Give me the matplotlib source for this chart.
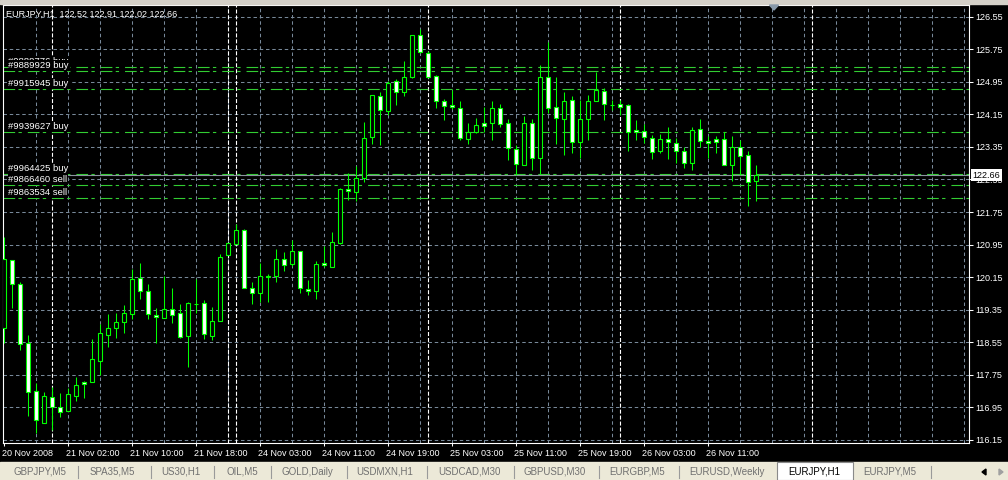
import matplotlib.pyplot as plt
import matplotlib.transforms as mtransforms
from matplotlib.patches import Rectangle, Polygon
import numpy as np

plt.rcParams['font.family'] = ['Liberation Sans', 'DejaVu Sans']
plt.rcParams['lines.scale_dashes'] = False

# EURJPY H1 bars, 20 Nov 18:00 .. 26 Nov 17:00 (one Sunday bar at index 28)
opens = [118.90, 120.57, 119.98, 118.53, 117.36, 116.56, 117.20, 116.95, 116.85, 117.24,
         117.58, 117.58, 118.10, 118.73, 118.91, 119.06, 119.24, 120.12, 119.81, 119.23,
         119.14, 119.36, 119.26, 118.71, 119.50, 119.51, 118.71, 119.07, 120.69, 120.96,
         121.31, 119.88, 119.77, 120.16, 120.17, 120.59, 120.47, 120.80, 119.85, 119.80,
         120.49, 120.41, 121.00, 122.31, 122.24, 122.58, 123.59, 124.59, 124.24, 124.96,
         124.70, 125.08, 126.10, 125.66, 125.09, 124.48, 124.38, 124.30, 123.54, 123.71,
         123.94, 123.94, 124.30, 123.94, 123.30, 122.90, 123.94, 123.07, 125.07, 124.33,
         124.03, 124.50, 123.48, 124.03, 124.48, 124.73, 124.38, 124.40, 124.37, 123.77,
         123.75, 123.57, 123.24, 123.54, 123.44, 123.26, 122.95, 123.79, 123.49, 123.54,
         123.54, 122.90, 123.35, 123.15, 122.52]
highs = [121.13, 120.58, 120.03, 118.73, 117.56, 117.33, 117.44, 117.31, 117.42, 117.70,
         117.60, 118.63, 119.00, 119.25, 119.28, 119.46, 120.35, 120.51, 119.98, 119.40,
         120.18, 119.89, 119.49, 119.53, 120.11, 119.59, 119.42, 120.72, 120.98, 121.46,
         121.34, 120.04, 120.49, 120.23, 120.84, 120.76, 121.07, 120.80, 120.08, 120.55,
         120.92, 121.25, 122.33, 122.71, 122.87, 123.96, 124.63, 124.69, 124.96, 125.02,
         125.47, 126.11, 126.25, 125.70, 125.12, 124.53, 124.75, 124.48, 123.94, 124.07,
         124.33, 124.48, 124.40, 124.04, 123.40, 124.10, 124.04, 125.37, 125.94, 125.07,
         124.70, 124.59, 124.51, 124.62, 125.18, 124.80, 124.51, 124.51, 124.40, 124.02,
         123.92, 123.65, 123.67, 123.85, 123.57, 123.36, 123.84, 124.04, 123.62, 123.62,
         123.71, 123.62, 123.53, 123.26, 122.91]
lows = [118.53, 119.39, 118.36, 116.74, 116.31, 116.56, 116.39, 116.72, 116.85, 117.12,
        117.19, 117.58, 117.75, 118.44, 118.66, 118.79, 119.12, 119.61, 119.12, 118.53,
        119.14, 119.03, 118.65, 117.95, 119.26, 118.63, 118.61, 119.07, 120.69, 120.96,
        119.88, 119.49, 119.55, 119.55, 120.04, 120.31, 120.43, 119.77, 119.70, 119.61,
        120.41, 120.41, 120.97, 122.05, 122.01, 122.50, 123.43, 123.40, 124.14, 124.37,
        124.59, 125.05, 125.65, 125.05, 124.30, 124.00, 124.28, 123.53, 123.43, 123.69,
        123.71, 123.51, 123.85, 123.02, 122.66, 122.90, 122.79, 122.69, 124.18, 123.43,
        123.16, 123.21, 123.08, 123.53, 124.48, 124.00, 124.26, 124.14, 123.26, 123.51,
        123.44, 123.05, 123.20, 123.05, 122.95, 122.83, 122.79, 123.36, 123.08, 123.20,
        122.90, 122.52, 122.66, 121.91, 122.02]
closes = [120.59, 119.98, 118.50, 117.32, 116.64, 117.22, 116.95, 116.83, 117.27, 117.49,
          117.52, 118.13, 118.77, 118.90, 119.04, 119.26, 120.10, 119.81, 119.24, 119.17,
          119.36, 119.23, 118.69, 119.51, 119.50, 118.75, 119.07, 120.64, 120.98, 121.31,
          119.88, 119.76, 120.18, 120.18, 120.59, 120.44, 120.80, 119.88, 119.80, 120.47,
          120.44, 121.01, 122.32, 122.26, 122.58, 123.57, 124.62, 124.26, 124.93, 124.70,
          125.08, 126.10, 125.68, 125.07, 124.48, 124.35, 124.33, 123.57, 123.71, 123.89,
          123.86, 124.30, 123.92, 123.32, 122.93, 123.94, 123.07, 125.07, 124.30, 124.06,
          124.48, 123.48, 124.03, 124.48, 124.75, 124.40, 124.38, 124.34, 123.71, 123.71,
          123.59, 123.22, 123.55, 123.47, 123.24, 122.95, 123.77, 123.50, 123.44, 123.47,
          122.90, 123.35, 123.13, 122.50, 122.66]

time_ticks = [0, 8, 16, 24, 32, 40, 48, 56, 64, 72, 80, 88]
time_labels = ["20 Nov 2008", "21 Nov 02:00", "21 Nov 10:00", "21 Nov 18:00",
               "24 Nov 03:00", "24 Nov 11:00", "24 Nov 19:00", "25 Nov 03:00",
               "25 Nov 11:00", "25 Nov 19:00", "26 Nov 03:00", "26 Nov 11:00"]
day_separators = [6, 28, 29, 53, 77, 101]
price_ticks = [116.15, 116.95, 117.75, 118.55, 119.35, 120.15, 120.95,
               121.75, 122.55, 123.35, 124.15, 124.95, 125.75, 126.55]

order_prices = [125.31, 125.22, 124.77, 123.715, 122.68, 122.41, 122.09]
order_labels = ["#9888776 buy", "#9889929 buy", "#9915945 buy", "#9939627 buy",
                "#9964425 buy", "#9866460 sell", "#9863534 sell"]
bid = 122.66

tabs = ["GBPJPY,M5", "SPA35,M5", "US30,H1", "OIL,M5", "GOLD,Daily", "USDMXN,H1",
        "USDCAD,M30", "GBPUSD,M30", "EURGBP,M5", "EURUSD,Weekly", "EURJPY,H1", "EURJPY,M5"]
tab_centers = [40, 112, 181, 242, 307, 385, 469, 555, 637, 727, 814, 890]
tab_separators = [78, 151, 214, 271, 347, 427, 514, 599, 679, 931]
active_tab = "EURJPY,H1"

W, H = 1008, 480
CANDLE = '#00ff00'
GRID = '#778899'
ORDER = '#32cd32'


def fx(px):
    return px / W


def fy(py):
    return 1 - py / H


fig = plt.figure(figsize=(W / 100, H / 100), dpi=100, facecolor='black')

# window frame at top and tab strip at bottom
fig.patches.append(Rectangle((0, fy(4)), 1, 4 / H, transform=fig.transFigure,
                             color='#d4d0c8', zorder=0))
fig.patches.append(Rectangle((0, 0), 1, 18 / H, transform=fig.transFigure,
                             color='#ece9d8', zorder=0))
fig.patches.append(Rectangle((fx(777), 0), 76 / W, 18 / H, transform=fig.transFigure,
                             facecolor='white', edgecolor='#8a8a8a', lw=0.8, zorder=1))

ax = fig.add_axes([fx(2.7), fy(443), (969.3 - 2.7) / W, (443 - 5) / H])
ax.set_facecolor('black')
ax.set_xlim(-0.125, 120.7)
ax.set_ylim(116.076, 126.837)

# grid
for gx in range(4, 121, 4):
    ax.axvline(gx, color=GRID, lw=0.75, ls=(0, (2.5, 2)), zorder=1)
for gy in price_ticks:
    ax.axhline(gy, color=GRID, lw=0.75, ls=(0, (2.5, 2)), zorder=1)
for sx in day_separators:
    ax.axvline(sx, color='white', lw=0.8, ls=(0, (2.9, 1.4)), zorder=1.5)

# trade lines
for p in order_prices:
    ax.axhline(p, color=ORDER, lw=0.8, ls=(0, (8.4, 2.4, 2.4, 4.3)), zorder=2)
ax.axhline(bid, color='#8c95a0', lw=0.8, zorder=2)

# candles
idx = np.arange(len(opens))
o = np.array(opens)
c = np.array(closes)
ax.vlines(idx, lows, highs, color=CANDLE, lw=0.75, zorder=3)
ax.bar(idx, np.abs(c - o), bottom=np.minimum(o, c), width=0.5,
       color=np.where(c >= o, 'black', 'white'), edgecolor=CANDLE,
       linewidth=0.8, zorder=4)

# order labels, each with black background
lab_off = mtransforms.ScaledTranslation(0, 1 / 100, fig.dpi_scale_trans)
for p, t in zip(order_prices, order_labels):
    ax.text(0.6, p, t, color='white', fontsize=6.8, va='bottom', ha='left',
            transform=ax.transData + lab_off, zorder=6,
            bbox=dict(facecolor='black', edgecolor='none', pad=0.6))

# axes styling
for s in ax.spines.values():
    s.set_color('white')
    s.set_linewidth(0.8)
ax.yaxis.tick_right()
ax.set_yticks(price_ticks)
ax.set_yticklabels([f"{v:.2f}" for v in price_ticks])
ax.tick_params(axis='y', direction='out', length=3, width=0.75, colors='white',
               labelsize=6.5, pad=1.5)
ax.set_xticks(time_ticks)
ax.set_xticklabels(time_labels)
ax.tick_params(axis='x', direction='out', length=2.5, width=0.75, colors='white',
               labelsize=6.5, pad=1.5)
shift = mtransforms.ScaledTranslation(-2 / 100, 0, fig.dpi_scale_trans)
for lbl in ax.get_xticklabels():
    lbl.set_horizontalalignment('left')
    lbl.set_transform(lbl.get_transform() + shift)

# current price box on the price scale
ax.text(1.0035, bid, f"{bid:.2f}", transform=ax.get_yaxis_transform(), color='black',
        fontsize=6.5, va='center', ha='left', clip_on=False, zorder=10,
        bbox=dict(facecolor='white', edgecolor='none', pad=1.2))

# chart title
fig.text(fx(6.5), fy(14), "EURJPY,H1  122.52 122.91 122.02 122.66", color='white',
         fontsize=6.5, va='center', ha='left')

# chart shift marker
fig.patches.append(Polygon([(fx(769.5), fy(5)), (fx(778.5), fy(5)), (fx(774), fy(10))],
                           closed=True, transform=fig.transFigure, color='#8899aa', zorder=5))

# tabs
for t, cx in zip(tabs, tab_centers):
    fig.text(fx(cx), fy(472), t, fontsize=7, ha='center', va='center',
             color='black' if t == active_tab else '#707070', zorder=3)
for sx in tab_separators:
    fig.lines.append(plt.Line2D([fx(sx), fx(sx)], [fy(466), fy(478)],
                                transform=fig.transFigure, color='#9a9a9a', lw=0.8))
fig.patches.append(Polygon([(fx(982), fy(472)), (fx(986), fy(469)), (fx(986), fy(475))],
                           closed=True, transform=fig.transFigure, color='black', zorder=3))
fig.patches.append(Polygon([(fx(1003), fy(472)), (fx(999), fy(469)), (fx(999), fy(475))],
                           closed=True, transform=fig.transFigure, color='#a0a0a0', zorder=3))

fig.savefig('out.png', dpi=100, facecolor='black')
